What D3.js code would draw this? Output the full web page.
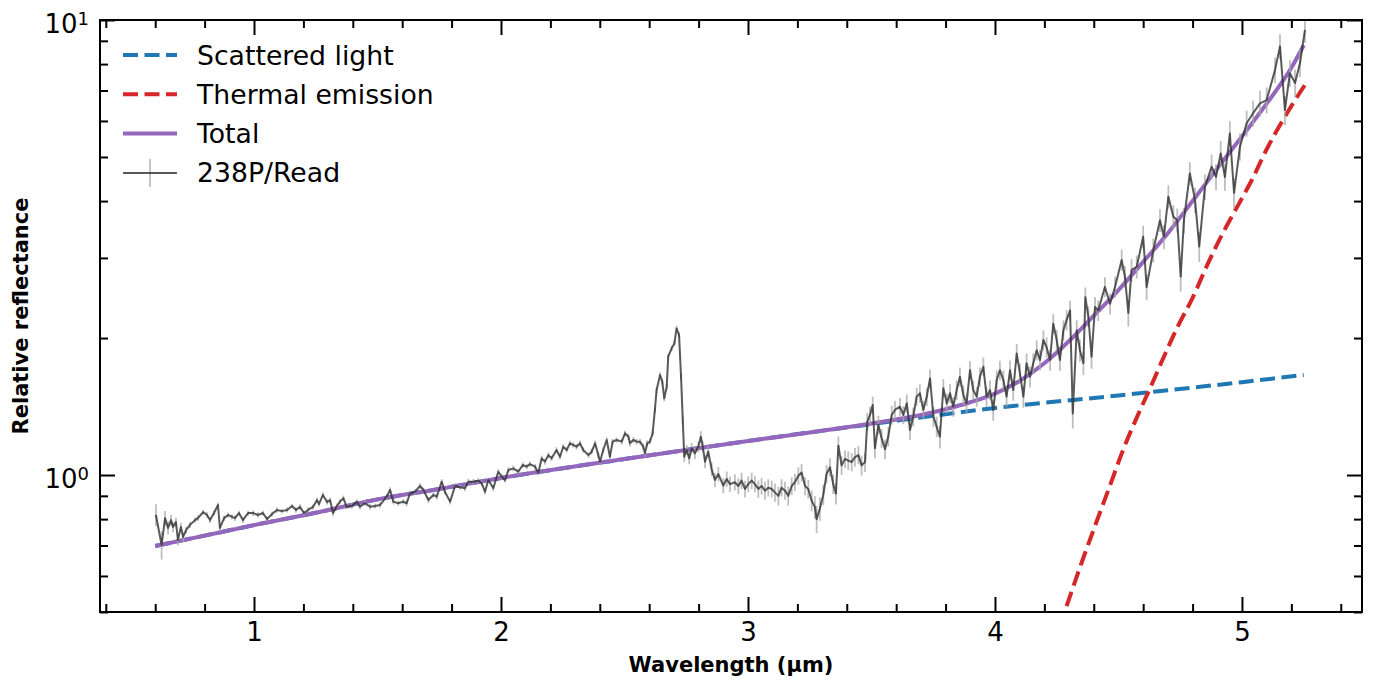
<!DOCTYPE html>
<html lang="en">
<head>
<meta charset="UTF-8">
<title>238P/Read relative reflectance</title>
<script src="https://d3js.org/d3.v7.min.js"></script>
<style>
  body { margin: 0; background: #fff; }
  text { font-family: "DejaVu Sans", sans-serif; fill: #000; }
  .tick text { font-size: 26px; }
  .label { font-size: 21px; font-weight: bold; }
  .legend text { font-size: 26.7px; }
</style>
</head>
<body>
<svg width="1374" height="684"></svg>
<script>
// model: scattered light
const scatWave = [0.6, 0.8, 1.0, 1.25, 1.5, 1.75, 2.0, 2.5, 3.0, 3.5, 4.0, 4.5, 5.0, 5.25];
const scatRefl = [0.698, 0.736, 0.776, 0.826, 0.884, 0.932, 0.985, 1.084, 1.188, 1.294, 1.404, 1.496, 1.600, 1.659];

// model: thermal emission
const thermWave = [4.29, 4.35, 4.40, 4.46, 4.52, 4.58, 4.63, 4.68, 4.74, 4.80, 4.86, 4.92, 4.98, 5.04, 5.10, 5.16, 5.21, 5.255];
const thermRefl = [0.515, 0.64, 0.76, 0.93, 1.14, 1.36, 1.56, 1.80, 2.12, 2.45, 2.90, 3.38, 3.88, 4.45, 5.20, 5.95, 6.60, 7.2];

// model: total
const totalWave = [0.6, 0.8, 1.0, 1.25, 1.5, 1.75, 2.0, 2.5, 3.0, 3.5,
  3.6, 3.7, 3.8, 3.9, 4.0, 4.1, 4.2, 4.3, 4.4, 4.5,
  4.6, 4.7, 4.8, 4.9, 5.0, 5.1, 5.2, 5.25];
const totalRefl = [0.698, 0.736, 0.776, 0.826, 0.884, 0.932, 0.985, 1.084, 1.188, 1.298,
  1.325, 1.355, 1.395, 1.445, 1.51, 1.61, 1.76, 1.97, 2.24, 2.55,
  2.94, 3.40, 4.00, 4.72, 5.55, 6.55, 7.85, 8.8];

// observed spectrum of 238P/Read
const specWave = [
  0.603, 0.626, 0.640, 0.652, 0.664, 0.672, 0.684, 0.692, 0.704, 0.713,
  0.725, 0.741, 0.761, 0.773, 0.794, 0.810, 0.822, 0.838, 0.854, 0.862,
  0.879, 0.895, 0.911, 0.923, 0.939, 0.955, 0.976, 0.996, 1.016, 1.036,
  1.053, 1.073, 1.093, 1.113, 1.134, 1.154, 1.170, 1.186, 1.202, 1.219,
  1.239, 1.255, 1.263, 1.279, 1.296, 1.308, 1.320, 1.336,
  1.348, 1.362, 1.375, 1.396, 1.416, 1.429, 1.449, 1.470, 1.490, 1.510,
  1.537, 1.551, 1.564, 1.584, 1.604, 1.618, 1.632, 1.652, 1.672, 1.686,
  1.706, 1.726, 1.740, 1.760, 1.773, 1.794, 1.814, 1.834, 1.854, 1.868,
  1.888, 1.908, 1.922, 1.935, 1.949, 1.969, 1.989, 2.003, 2.016, 2.030,
  2.050, 2.070, 2.088, 2.104,
  2.117, 2.138, 2.151, 2.165, 2.178, 2.192, 2.205, 2.225, 2.239, 2.252,
  2.266, 2.279, 2.293, 2.306, 2.320, 2.333, 2.354, 2.367, 2.381, 2.394,
  2.401, 2.414, 2.428, 2.441, 2.452, 2.468, 2.489, 2.502, 2.516, 2.522,
  2.536, 2.549, 2.563, 2.576, 2.583, 2.592, 2.603, 2.614, 2.623, 2.630,
  2.644, 2.653, 2.661, 2.671, 2.677, 2.691, 2.702, 2.711, 2.721, 2.729,
  2.736, 2.742, 2.752, 2.762, 2.772, 2.785, 2.799, 2.809, 2.817, 2.826,
  2.839, 2.853, 2.866, 2.880,
  2.900, 2.914, 2.927, 2.947, 2.961, 2.974, 2.988, 3.001, 3.015, 3.028,
  3.042, 3.055, 3.069, 3.082, 3.096, 3.109, 3.123, 3.136, 3.150, 3.163,
  3.177, 3.190, 3.204, 3.217, 3.231, 3.244, 3.258, 3.271, 3.278, 3.291,
  3.305, 3.318, 3.332, 3.345, 3.356, 3.366, 3.379, 3.393, 3.406, 3.420,
  3.433, 3.447, 3.460, 3.474, 3.483, 3.494, 3.505, 3.514, 3.528, 3.541,
  3.555, 3.568, 3.582, 3.595,
  3.615, 3.629, 3.643, 3.656, 3.669, 3.683, 3.696, 3.710, 3.724, 3.737,
  3.751, 3.764, 3.777, 3.791, 3.805, 3.818, 3.831, 3.845, 3.858, 3.872,
  3.885, 3.899, 3.912, 3.926, 3.939, 3.953, 3.966, 3.980, 3.993, 4.007,
  4.020, 4.034, 4.047, 4.061, 4.074, 4.088, 4.101, 4.115, 4.128, 4.142,
  4.155, 4.169, 4.182, 4.196, 4.209, 4.223, 4.236, 4.250, 4.263, 4.277,
  4.290, 4.304, 4.315, 4.331, 4.344, 4.358, 4.366, 4.378, 4.391, 4.405,
  4.418, 4.445, 4.466, 4.486, 4.513, 4.526, 4.540, 4.553, 4.574, 4.600,
  4.614, 4.641, 4.668, 4.684, 4.702, 4.722, 4.738, 4.752, 4.765, 4.789,
  4.810, 4.827, 4.850, 4.877, 4.895, 4.914, 4.931, 4.951, 4.968, 4.992,
  5.019, 5.045, 5.073, 5.100, 5.134, 5.154, 5.174, 5.194, 5.215, 5.235,
  5.255
];
const specRefl = [
  0.817, 0.702, 0.804, 0.765, 0.796, 0.769, 0.788, 0.720, 0.769, 0.731,
  0.757, 0.777, 0.796, 0.804, 0.829, 0.817, 0.796, 0.825, 0.859, 0.765,
  0.804, 0.817, 0.809, 0.804, 0.825, 0.796, 0.825, 0.825, 0.817, 0.825,
  0.800, 0.821, 0.838, 0.833, 0.838, 0.855, 0.838, 0.851, 0.825, 0.838,
  0.851, 0.881, 0.863, 0.904, 0.872, 0.881, 0.825, 0.855,
  0.874, 0.889, 0.852, 0.855, 0.874, 0.852, 0.867, 0.852, 0.855, 0.859,
  0.896, 0.927, 0.874, 0.867, 0.874, 0.867, 0.911, 0.919, 0.946, 0.927,
  0.881, 0.904, 0.896, 0.967, 0.919, 0.874, 0.946, 0.940, 0.935, 0.967,
  0.967, 0.972, 0.959, 0.919, 0.975, 0.935, 1.017, 0.991, 0.975, 1.026,
  1.034, 1.017, 1.052, 1.043,
  1.057, 1.043, 1.012, 1.088, 1.070, 1.106, 1.088, 1.135, 1.097, 1.154,
  1.135, 1.174, 1.164, 1.154, 1.174, 1.135, 1.106, 1.125, 1.174, 1.106,
  1.070, 1.135, 1.194, 1.097, 1.184, 1.194, 1.184, 1.235, 1.214, 1.174,
  1.194, 1.184, 1.184, 1.154, 1.116, 1.174, 1.184, 1.235, 1.389, 1.537,
  1.659, 1.604, 1.474, 1.563, 1.820, 1.898, 1.947, 2.10, 2.03, 1.644,
  1.321, 1.097, 1.135, 1.088, 1.145, 1.116, 1.154, 1.214, 1.154, 1.070,
  1.125, 1.030, 0.975, 1.005,
  0.948, 0.980, 0.955, 0.964, 0.946, 0.972, 0.932, 0.955, 0.972, 0.955,
  0.932, 0.946, 0.924, 0.938, 0.932, 0.916, 0.900, 0.938, 0.924, 0.900,
  0.946, 0.964, 0.996, 1.013, 0.946, 0.932, 0.878, 0.850, 0.800, 0.843,
  0.905, 1.005, 1.040, 0.955, 0.910, 1.160, 1.050, 1.085, 1.076, 1.068,
  1.095, 1.106, 1.050, 1.068, 1.310, 1.355, 1.425, 1.145, 1.290, 1.205,
  1.140, 1.215, 1.355, 1.390,
  1.413, 1.355, 1.437, 1.256, 1.343, 1.487, 1.512, 1.389, 1.487, 1.63,
  1.343, 1.277, 1.214, 1.551, 1.437, 1.512, 1.413, 1.537, 1.644, 1.499,
  1.437, 1.70, 1.537, 1.487, 1.644, 1.73, 1.487, 1.537, 1.389, 1.617,
  1.70, 1.617, 1.487, 1.70, 1.537, 1.85, 1.673, 1.487, 1.76, 1.644,
  1.76, 1.88, 1.79, 1.98, 1.91, 1.79, 2.15, 1.98, 1.79, 2.08,
  2.19, 2.30, 1.366, 2.08, 1.88, 1.76, 2.46, 2.23, 1.82, 2.34,
  2.30, 2.59, 2.38, 2.59, 2.97, 2.73, 2.27, 2.82, 2.87, 3.34,
  2.59, 3.12, 3.63, 3.34, 4.09, 3.70, 3.63, 2.73, 3.63, 4.60,
  4.02, 3.18, 4.30, 4.76, 4.52, 5.09, 4.52, 5.63, 4.17, 5.27,
  5.93, 6.24, 6.56, 6.67, 7.77, 8.75, 6.34, 7.64, 7.27, 8.04,
  9.51
];
const specErr = [
  0.045, 0.050, 0.030, 0.025, 0.022, 0.020, 0.018, 0.020, 0.016, 0.016,
  0.014, 0.012, 0.011, 0.012, 0.010, 0.011, 0.012, 0.010, 0.011, 0.013,
  0.011, 0.010, 0.011, 0.012, 0.010, 0.011, 0.010, 0.012, 0.011, 0.010,
  0.011, 0.010, 0.012, 0.010, 0.011, 0.010, 0.012, 0.011, 0.010, 0.011,
  0.012, 0.011, 0.010, 0.012, 0.011, 0.010, 0.012, 0.011,
  0.011, 0.012, 0.011, 0.012, 0.010, 0.012, 0.011, 0.012, 0.011, 0.012,
  0.012, 0.013, 0.012, 0.011, 0.012, 0.013, 0.012, 0.012, 0.013, 0.012,
  0.013, 0.012, 0.013, 0.012, 0.013, 0.012, 0.013, 0.012, 0.013, 0.014,
  0.013, 0.012, 0.013, 0.014, 0.013, 0.014, 0.013, 0.014, 0.013, 0.014,
  0.015, 0.014, 0.015, 0.014,
  0.014, 0.015, 0.014, 0.015, 0.016, 0.015, 0.014, 0.016, 0.015, 0.016,
  0.015, 0.016, 0.015, 0.016, 0.017, 0.016, 0.015, 0.016, 0.017, 0.016,
  0.017, 0.016, 0.017, 0.018, 0.017, 0.016, 0.017, 0.018, 0.017, 0.018,
  0.017, 0.018, 0.017, 0.018, 0.019, 0.018, 0.017, 0.018, 0.020, 0.022,
  0.024, 0.023, 0.022, 0.023, 0.025, 0.026, 0.027, 0.028, 0.028, 0.026,
  0.025, 0.030, 0.028, 0.032, 0.030, 0.033, 0.031, 0.034, 0.032, 0.035,
  0.034, 0.036, 0.035, 0.037,
  0.036, 0.038, 0.037, 0.039, 0.038, 0.040, 0.039, 0.038, 0.040, 0.039,
  0.041, 0.040, 0.042, 0.041, 0.040, 0.042, 0.043, 0.041, 0.042, 0.044,
  0.043, 0.042, 0.044, 0.045, 0.043, 0.044, 0.046, 0.048, 0.055, 0.050,
  0.047, 0.046, 0.048, 0.047, 0.049, 0.055, 0.050, 0.049, 0.051, 0.050,
  0.052, 0.051, 0.053, 0.052, 0.060, 0.058, 0.062, 0.056, 0.060, 0.058,
  0.057, 0.060, 0.064, 0.065,
  0.065, 0.062, 0.066, 0.063, 0.064, 0.068, 0.070, 0.066, 0.069, 0.075,
  0.068, 0.066, 0.070, 0.074, 0.071, 0.073, 0.070, 0.075, 0.078, 0.074,
  0.072, 0.080, 0.076, 0.074, 0.079, 0.082, 0.075, 0.077, 0.073, 0.081,
  0.084, 0.081, 0.078, 0.085, 0.080, 0.090, 0.086, 0.082, 0.090, 0.087,
  0.091, 0.096, 0.093, 0.100, 0.098, 0.095, 0.108, 0.102, 0.097, 0.107,
  0.111, 0.115, 0.100, 0.110, 0.105, 0.102, 0.124, 0.117, 0.108, 0.121,
  0.12, 0.13, 0.13, 0.14, 0.16, 0.15, 0.15, 0.16, 0.17, 0.19,
  0.17, 0.19, 0.21, 0.20, 0.24, 0.22, 0.22, 0.20, 0.23, 0.27,
  0.26, 0.24, 0.28, 0.30, 0.30, 0.33, 0.31, 0.36, 0.32, 0.36,
  0.39, 0.41, 0.43, 0.44, 0.50, 0.55, 0.47, 0.52, 0.51, 0.55,
  0.60
];

const xTicks = [1, 2, 3, 4, 5];
const yTicks = [1, 10];
const yMinorTicks = [0.5, 0.6, 0.7, 0.8, 0.9, 2, 3, 4, 5, 6, 7, 8, 9];
const legendLabels = ["Scattered light", "Thermal emission", "Total", "238P/Read"];

const plot = { left: 100, right: 1362, top: 20, bottom: 612 };

const svg = d3.select("svg");

const x = d3.scaleLinear().domain([0.3765, 5.486]).range([plot.left, plot.right]);
const y = d3.scaleLog().domain([0.5, 10]).range([plot.bottom, plot.top]);

const xMinor = d3.range(0.4, 5.45, 0.2).filter(v => Math.abs(v - Math.round(v)) > 0.05);

// ticks pointing inward on all four sides
function axis(fn, scale, values, size, pos, withLabels) {
    const a = fn(scale).tickValues(values).tickSize(-size).tickPadding(11);
    if (!withLabels) a.tickFormat("");
    const g = svg.append("g").attr("transform", pos).call(a);
    g.select(".domain").remove();
    g.selectAll(".tick line").attr("stroke", "#000").attr("stroke-width", 2);
    return g;
}

axis(d3.axisBottom, x, xTicks, 15, `translate(0,${plot.bottom})`, true)
    .selectAll(".tick text").text(d => d3.format("d")(d));
axis(d3.axisBottom, x, xMinor, 8, `translate(0,${plot.bottom})`, false);
axis(d3.axisTop, x, xTicks, 15, `translate(0,${plot.top})`, false);
axis(d3.axisTop, x, xMinor, 8, `translate(0,${plot.top})`, false);
axis(d3.axisLeft, y, yTicks, 15, `translate(${plot.left},0)`, false);
axis(d3.axisLeft, y, yMinorTicks, 8, `translate(${plot.left},0)`, false);
axis(d3.axisRight, y, yTicks, 15, `translate(${plot.right},0)`, false);
axis(d3.axisRight, y, yMinorTicks, 8, `translate(${plot.right},0)`, false);

// y tick labels as 10^n
yTicks.forEach(v => {
    const t = svg.append("text")
        .attr("x", 89)
        .attr("y", y(v) + 12.5)
        .attr("text-anchor", "end")
        .style("font-size", "26px");
    t.append("tspan").text("10");
    t.append("tspan").attr("dy", -8).style("font-size", "18px").text(Math.round(Math.log10(v)));
});

svg.append("clipPath").attr("id", "clip")
    .append("rect")
    .attr("x", plot.left).attr("y", plot.top)
    .attr("width", plot.right - plot.left).attr("height", plot.bottom - plot.top);

const g = svg.append("g").attr("clip-path", "url(#clip)");

const line = d3.line()
    .x(d => x(d[0]))
    .y(d => y(d[1]))
    .curve(d3.curveMonotoneX);

g.append("path")
    .datum(d3.zip(scatWave, scatRefl))
    .attr("d", line)
    .attr("fill", "none")
    .attr("stroke", "#1f77b4")
    .attr("stroke-width", 4)
    .attr("stroke-dasharray", "15 6.5");

g.append("path")
    .datum(d3.zip(thermWave, thermRefl))
    .attr("d", line)
    .attr("fill", "none")
    .attr("stroke", "#d62728")
    .attr("stroke-width", 4)
    .attr("stroke-dasharray", "15 6.5");

g.append("path")
    .datum(d3.zip(totalWave, totalRefl))
    .attr("d", line)
    .attr("fill", "none")
    .attr("stroke", "#9467bd")
    .attr("stroke-width", 4);

const spec = d3.zip(specWave, specRefl, specErr);

// error bars
g.selectAll(".err")
    .data(spec)
    .enter().append("line")
    .attr("class", "err")
    .attr("x1", d => x(d[0]))
    .attr("x2", d => x(d[0]))
    .attr("y1", d => y(d[1] - d[2]))
    .attr("y2", d => y(d[1] + d[2]))
    .attr("stroke", "#a8a8a8")
    .attr("stroke-opacity", 0.75)
    .attr("stroke-width", 1.8);

g.append("path")
    .datum(spec)
    .attr("d", d3.line().x(d => x(d[0])).y(d => y(d[1])))
    .attr("fill", "none")
    .attr("stroke", "#2b2b2b")
    .attr("stroke-opacity", 0.78)
    .attr("stroke-width", 2)
    .attr("stroke-linejoin", "round");

// frame
svg.append("rect")
    .attr("x", plot.left).attr("y", plot.top)
    .attr("width", plot.right - plot.left).attr("height", plot.bottom - plot.top)
    .attr("fill", "none")
    .attr("stroke", "#000")
    .attr("stroke-width", 2);

// axis labels
svg.append("text")
    .attr("class", "label")
    .attr("x", (plot.left + plot.right) / 2)
    .attr("y", 672)
    .attr("text-anchor", "middle")
    .text("Wavelength (µm)");

svg.append("text")
    .attr("class", "label")
    .attr("transform", "translate(28,316) rotate(-90)")
    .attr("text-anchor", "middle")
    .text("Relative reflectance");

// legend (no frame)
const legend = svg.append("g").attr("class", "legend");
const styles = [
    { color: "#1f77b4", dash: "15 6.5", width: 4 },
    { color: "#d62728", dash: "15 6.5", width: 4 },
    { color: "#9467bd", dash: null, width: 4 },
    { color: "#2b2b2b", dash: null, width: 2, opacity: 0.78, err: true }
];
legendLabels.forEach((label, i) => {
    const cy = 55 + i * 39.3;
    const s = styles[i];
    if (s.err) {
        legend.append("line")
            .attr("x1", 150).attr("x2", 150)
            .attr("y1", cy - 14).attr("y2", cy + 14)
            .attr("stroke", "#a8a8a8").attr("stroke-opacity", 0.75).attr("stroke-width", 1.8);
    }
    legend.append("line")
        .attr("x1", 123).attr("x2", 177)
        .attr("y1", cy).attr("y2", cy)
        .attr("stroke", s.color)
        .attr("stroke-width", s.width)
        .attr("stroke-opacity", s.opacity || 1)
        .attr("stroke-dasharray", s.dash);
    legend.append("text")
        .attr("x", 197)
        .attr("y", cy + 9.5)
        .text(label);
});
</script>
</body>
</html>
